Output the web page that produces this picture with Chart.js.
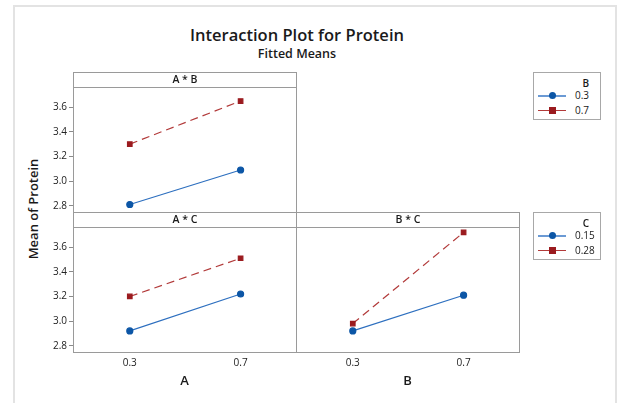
<!DOCTYPE html>
<html>
<head>
<meta charset="utf-8">
<script src="https://cdn.jsdelivr.net/npm/chart.js@4.4.1/dist/chart.umd.min.js"></script>
<style>
    body { margin: 0; background: #fff; font-family: "Open Sans", sans-serif; color: #1a1a1a; }
    #page { position: relative; width: 618px; height: 403px; overflow: hidden; }
    .frame { position: absolute; left: 13px; top: 5px; width: 600px; height: 420px; border: 2px solid #e3e3e3; }
    .txt { position: absolute; white-space: nowrap; transform: translate(-50%, -50%); }
    .box { position: absolute; border: 1px solid #9a9a9a; box-sizing: border-box; pointer-events: none; }
    .hdr { position: absolute; left: 0; right: 0; top: 0; height: 14px; border-bottom: 1px solid #9a9a9a;
           font-size: 10.5px; font-weight: 600; text-align: center; line-height: 13px; }
    .cw { position: absolute; }
    .legend { position: absolute; border: 1px solid #a8a8a8; box-sizing: border-box; width: 68px; height: 48px; font-size: 10px; }
    .legend .ttl { position: absolute; right: 11px; top: 3px; font-weight: 600; }
    .legend .row { position: absolute; left: 4px; height: 12px; width: 60px; }
    .legend .ln { position: absolute; left: 0; width: 28px; }
    .legend .mk { position: absolute; left: 11px; top: 2px; width: 7px; height: 7px; }
    .legend .lb { position: absolute; left: 37px; top: -2px; }
</style>
</head>
<body>
<div id="page">
    <div class="frame"></div>
    <div class="txt" style="left:297px; top:34px; font-size:16.5px; font-weight:600;">Interaction Plot for Protein</div>
    <div class="txt" style="left:297px; top:53px; font-size:12.5px; font-weight:600;">Fitted Means</div>
    <div class="txt" style="left:33px; top:209px; font-size:13px; font-weight:600; transform: translate(-50%, -50%) rotate(-90deg);">Mean of Protein</div>

    <div class="cw" style="left:40px; top:85px; width:256px; height:127px;"><canvas id="chartAB"></canvas></div>
    <div class="cw" style="left:40px; top:225px; width:256px; height:170px;"><canvas id="chartAC"></canvas></div>
    <div class="cw" style="left:296px; top:225px; width:223px; height:170px;"><canvas id="chartBC"></canvas></div>

    <div class="box" style="left:73px; top:72px; width:224px; height:141px;"><div class="hdr">A * B</div></div>
    <div class="box" style="left:73px; top:212px; width:224px; height:141px;"><div class="hdr">A * C</div></div>
    <div class="box" style="left:296px; top:212px; width:224px; height:141px;"><div class="hdr">B * C</div></div>

    <div class="legend" style="left:533px; top:72px;" id="legB"></div>
    <div class="legend" style="left:533px; top:212px;" id="legC"></div>
</div>
<script>
// Données
const xLevels = [0.3, 0.7];
const yTicks = [2.8, 3.0, 3.2, 3.4, 3.6];

// A * B (séries selon B)
const abLabels = ['0.3', '0.7'];
const abB03 = [2.81, 3.09];
const abB07 = [3.30, 3.65];

// A * C et B * C (séries selon C)
const cLabels = ['0.15', '0.28'];
const acC015 = [2.92, 3.22];
const acC028 = [3.20, 3.51];
const bcC015 = [2.92, 3.21];
const bcC028 = [2.98, 3.72];

const blue = '#0c56a6';
const blueLine = '#2d6fbf';
const red = '#9b1b1f';
const redLine = '#b23a3a';

function points(values) {
    return values.map((v, i) => ({ x: xLevels[i], y: v }));
}

function series(values, label, isRed) {
    return {
        label: label,
        data: points(values),
        borderColor: isRed ? redLine : blueLine,
        backgroundColor: isRed ? red : blue,
        pointBackgroundColor: isRed ? red : blue,
        pointBorderColor: isRed ? red : blue,
        pointStyle: isRed ? 'rect' : 'circle',
        pointRadius: isRed ? 3.2 : 3,
        borderWidth: 1.2,
        borderDash: isRed ? [8, 5] : [],
        tension: 0
    };
}

function makeChart(id, datasets, showY, xTitle) {
    const ctx = document.getElementById(id).getContext('2d');
    const showX = !!xTitle;
    return new Chart(ctx, {
        type: 'line',
        data: { datasets: datasets },
        options: {
            responsive: true,
            maintainAspectRatio: false,
            animation: false,
            layout: { padding: 0, autoPadding: false },
            plugins: { legend: { display: false }, tooltip: { enabled: false } },
            scales: {
                x: {
                    type: 'linear',
                    min: 0.095,
                    max: 0.9,
                    display: showX,
                    afterBuildTicks: function(s) { s.ticks = xLevels.map(v => ({ value: v })); },
                    afterFit: function(s) {
                        s.height = showX ? 43 : 0;
                        s.paddingLeft = 0; s.paddingRight = 0;
                    },
                    grid: { drawOnChartArea: false, drawTicks: false },
                    border: { display: false },
                    ticks: {
                        padding: 5,
                        color: '#222',
                        font: { family: 'Open Sans', size: 10 },
                        callback: v => v.toFixed(1)
                    },
                    title: {
                        display: showX,
                        text: xTitle || '',
                        color: '#1a1a1a',
                        font: { family: 'Open Sans', size: 13, weight: '600', lineHeight: 1.2 },
                        padding: { top: 4, bottom: 6 }
                    }
                },
                y: {
                    min: 2.749,
                    max: 3.78,
                    display: showY,
                    afterBuildTicks: function(s) { s.ticks = yTicks.map(v => ({ value: v })); },
                    afterFit: function(s) {
                        s.width = showY ? 33 : 0;
                        s.paddingTop = 0; s.paddingBottom = 0;
                    },
                    grid: { drawOnChartArea: false, drawTicks: true, tickLength: 4, color: '#8a8a8a' },
                    border: { display: false },
                    ticks: {
                        padding: 2,
                        color: '#222',
                        font: { family: 'Open Sans', size: 10 },
                        callback: v => v.toFixed(1)
                    }
                }
            }
        }
    });
}

makeChart('chartAB', [series(abB03, abLabels[0], false), series(abB07, abLabels[1], true)], true, null);
makeChart('chartAC', [series(acC015, cLabels[0], false), series(acC028, cLabels[1], true)], true, 'A');
makeChart('chartBC', [series(bcC015, cLabels[0], false), series(bcC028, cLabels[1], true)], false, 'B');

// Légendes (même style que les séries)
function buildLegend(id, title, labels) {
    const el = document.getElementById(id);
    let html = '<div class="ttl">' + title + '</div>';
    labels.forEach((lab, i) => {
        const isRed = i === 1;
        const top = 17 + i * 15;
        const line = isRed
            ? '<div class="ln" style="top:5px; height:1px; background:' + redLine + ';"></div>'
            : '<div class="ln" style="top:5px; height:2px; background:#6b9ad4;"></div>';
        const mark = isRed
            ? '<div class="mk" style="background:' + red + ';"></div>'
            : '<div class="mk" style="border-radius:50%; background:' + blue + ';"></div>';
        html += '<div class="row" style="top:' + top + 'px;">' + line + mark + '<div class="lb">' + lab + '</div></div>';
    });
    el.innerHTML = html;
}
buildLegend('legB', 'B', abLabels);
buildLegend('legC', 'C', cLabels);
</script>
</body>
</html>
